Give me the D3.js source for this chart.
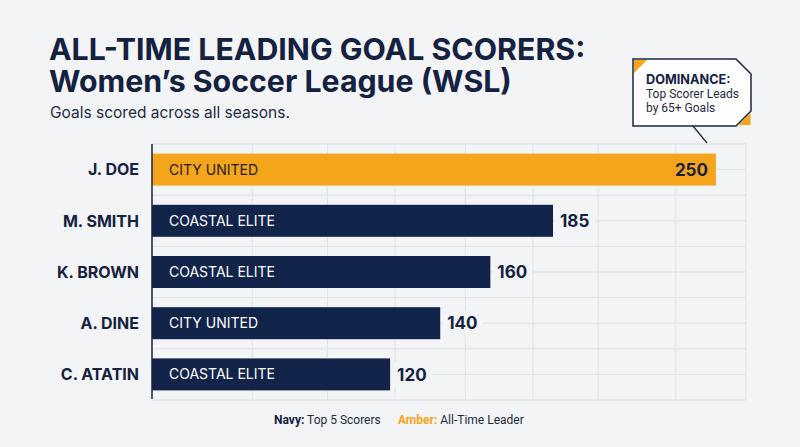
<!DOCTYPE html>
<html><head><meta charset="utf-8">
<script src="https://cdn.jsdelivr.net/npm/d3@7"></script>
<style>
html,body{margin:0;padding:0;background:#f2f4f6;}
svg{display:block;font-family:Inter,"Liberation Sans",Arial,sans-serif;}
</style></head>
<body><svg id="c" width="800" height="447"></svg>
<script>
const players = ["J. DOE","M. SMITH","K. BROWN","A. DINE","C. ATATIN"];
const clubs = ["CITY UNITED","COASTAL ELITE","COASTAL ELITE","CITY UNITED","COASTAL ELITE"];
const goals = [250,185,160,140,120];
const gridValues = [65,95,122,150,177,203,234,262];
const titleLines = ["ALL-TIME LEADING GOAL SCORERS:","Women’s Soccer League (WSL)"];
const NAVY = "#13244a", AMBER = "#f5a51c", INK = "#14213f";

const svg = d3.select("#c");
svg.append("rect").attr("width",800).attr("height",447).attr("fill","#f2f4f6");

const x = d3.scaleLinear().domain([25,262]).range([152,746]);
const y = d3.scaleBand().domain(players).range([144,400]).paddingInner(0.375).paddingOuter(0.1875);

// grid
const g = svg.append("g");
g.selectAll("line.v").data(gridValues).join("line")
  .attr("x1",d=>x(d)).attr("x2",d=>x(d)).attr("y1",144).attr("y2",400)
  .attr("stroke","#dfe2e6").attr("stroke-width",1);
const hLines = [144];
players.forEach((p,i)=>{ hLines.push(y(p)+y.bandwidth()/2); if(i>0) hLines.push(y(p)-y.step()*y.paddingInner()/2 ); });
hLines.push(400);
g.selectAll("line.h").data(hLines).join("line")
  .attr("x1",152).attr("x2",x(262)).attr("y1",d=>d).attr("y2",d=>d)
  .attr("stroke","#dfe2e6").attr("stroke-width",1);

// bars
const data = players.map((p,i)=>({p, club:clubs[i], v:goals[i], lead:i===0}));
svg.selectAll("rect.bar").data(data).join("rect")
  .attr("x",x(25)).attr("y",d=>y(d.p)).attr("height",y.bandwidth())
  .attr("width",d=>x(d.v)-x(25)).attr("fill",d=>d.lead?AMBER:NAVY);

svg.selectAll("text.club").data(data).join("text")
  .attr("x",x(25)+17).attr("y",d=>y(d.p)+y.bandwidth()/2).attr("dy","0.36em")
  .attr("font-size",14).attr("fill",d=>d.lead?"#1c1c1c":"#ffffff").text(d=>d.club);

svg.selectAll("rect.lblbg").data(data.filter(d=>!d.lead)).join("rect")
  .attr("x",d=>x(d.v)+2).attr("y",d=>y(d.p)+4).attr("width",40).attr("height",y.bandwidth()-8)
  .attr("fill","#f2f4f6");
svg.selectAll("text.val").data(data).join("text")
  .attr("x",d=>d.lead?x(d.v)-8:x(d.v)+7)
  .attr("text-anchor",d=>d.lead?"end":"start")
  .attr("y",d=>y(d.p)+y.bandwidth()/2).attr("dy","0.36em")
  .attr("font-size",17).attr("font-weight",700).attr("fill",INK).text(d=>d.v);

// names
svg.selectAll("text.name").data(data).join("text")
  .attr("x",139).attr("text-anchor","end")
  .attr("y",d=>y(d.p)+y.bandwidth()/2).attr("dy","0.36em")
  .attr("font-size",16).attr("font-weight",700).attr("fill",INK).text(d=>d.p);

// axis
svg.append("line").attr("x1",152).attr("x2",152).attr("y1",144).attr("y2",399)
  .attr("stroke","#1b2540").attr("stroke-width",1.5);

// titles (one text element, two lines)
const t = svg.append("text").attr("x",49).attr("y",60).attr("font-size",30.3).attr("font-weight",700).attr("fill",INK);
t.selectAll("tspan").data(titleLines).join("tspan")
  .attr("x",49).attr("dy",(d,i)=>i===0?0:32).text(d=>d);
svg.append("text").attr("x",50).attr("y",118).attr("font-size",15.5)
  .attr("fill","#1f2a44").text("Goals scored across all seasons.");

// annotation
const bx0=633,bx1=751,by0=59,by1=126,c=15;
svg.append("line").attr("x1",693).attr("y1",126).attr("x2",707).attr("y2",143)
  .attr("stroke","#1b2540").attr("stroke-width",1.2);
svg.append("path").attr("d",`M${bx0},${by0}L${bx1-c},${by0}L${bx1},${by0+c}L${bx1},${by1-c}L${bx1-c},${by1}L${bx0},${by1}Z`)
  .attr("fill","#ffffff").attr("stroke","#1b2540").attr("stroke-width",1.5);
svg.append("path").attr("d",`M${bx0+1},${by0+1}L${bx0+14},${by0+1}L${bx0+1},${by0+14}Z`).attr("fill",AMBER);
svg.append("path").attr("d",`M${bx1-0.5},${by1-13}L${bx1-0.5},${by1-1}L${bx1-13},${by1-1}Z`).attr("fill",AMBER);
svg.append("text").attr("x",646).attr("y",84).attr("font-size",12.7).attr("font-weight",700).attr("fill",INK).text("DOMINANCE:");
svg.append("text").attr("x",646).attr("y",98).attr("font-size",12).attr("font-family","Roboto").attr("fill","#1f2a44").text("Top Scorer Leads");
svg.append("text").attr("x",646).attr("y",112).attr("font-size",12).attr("font-family","Roboto").attr("fill","#1f2a44").text("by 65+ Goals");

// legend
const lg = svg.append("text").attr("x",274).attr("y",424).attr("font-size",12).attr("font-family","Roboto");
lg.append("tspan").attr("font-weight",700).attr("fill",INK).text("Navy:");
lg.append("tspan").attr("fill","#1f2a44").text(" Top 5 Scorers");
const lg2 = svg.append("text").attr("x",398).attr("y",424).attr("font-size",12).attr("font-family","Roboto");
lg2.append("tspan").attr("font-weight",700).attr("fill",AMBER).text("Amber:");
lg2.append("tspan").attr("fill","#1f2a44").text(" All-Time Leader");
</script></body></html>
